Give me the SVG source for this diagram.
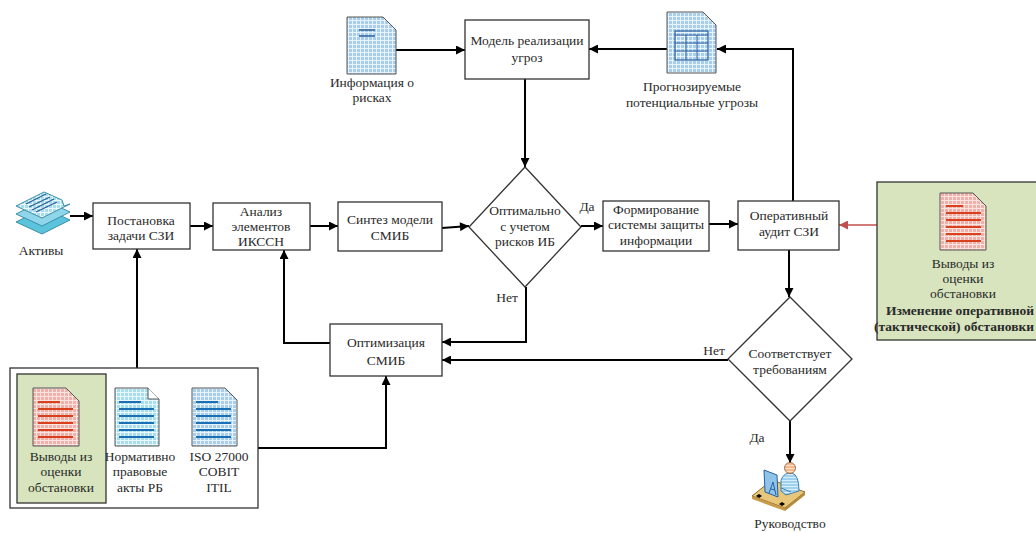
<svg xmlns="http://www.w3.org/2000/svg" width="1036" height="533" viewBox="0 0 1036 533">
  <style>
    text { font-family: "Liberation Serif", "DejaVu Serif", serif; font-size: 13.5px; fill: #2a2a2a; text-anchor: middle; }
    .bold { font-weight: bold; }
    .end { text-anchor: end; }
    .box { fill: #fff; stroke: #333; stroke-width: 1.3; }
    .green { fill: #d7e4bd; stroke: #333; stroke-width: 1.3; }
    .frame { fill: #fff; stroke: #333; stroke-width: 1.3; }
    .wire { fill: none; stroke: #000; stroke-width: 2; }
    .wire-red { fill: none; stroke: #c0504d; stroke-width: 1.5; }
    .doc-blue { fill: url(#gridBlue); stroke: #555; stroke-width: 1; }
    .doc-cyan { fill: url(#gridCyan); stroke: #555; stroke-width: 1; }
    .doc-red { fill: url(#gridRed); stroke: #555; stroke-width: 1; }
    .ln-red { stroke: #d9401e; stroke-width: 2; }
    .ln-blue { stroke: #1a6fb5; stroke-width: 2; }
    .ln-navy { stroke: #2a5f9e; stroke-width: 1.3; }
  </style>
  <defs>
    <marker id="arr" viewBox="0 0 10 10" refX="10" refY="5" markerWidth="11" markerHeight="9" markerUnits="userSpaceOnUse" orient="auto">
      <path d="M0,0 L10,5 L0,10 z" fill="#000"/>
    </marker>
    <marker id="arrRed" viewBox="0 0 10 10" refX="10" refY="5" markerWidth="11" markerHeight="9" markerUnits="userSpaceOnUse" orient="auto">
      <path d="M0,0 L10,5 L0,10 z" fill="#c0504d"/>
    </marker>
    <pattern id="gridBlue" width="4" height="4" patternUnits="userSpaceOnUse">
      <rect width="4" height="4" fill="#a9cdec"/>
      <path d="M0,0.5 H4 M0.5,0 V4" stroke="#e8f3fc" stroke-width="1"/>
    </pattern>
    <pattern id="gridCyan" width="4" height="4" patternUnits="userSpaceOnUse">
      <rect width="4" height="4" fill="#a8dcef"/>
      <path d="M0,0.5 H4 M0.5,0 V4" stroke="#eaf7fc" stroke-width="1"/>
    </pattern>
    <pattern id="gridRed" width="4" height="4" patternUnits="userSpaceOnUse">
      <rect width="4" height="4" fill="#f2b0aa"/>
      <path d="M0,0.5 H4 M0.5,0 V4" stroke="#fbe3e0" stroke-width="1"/>
    </pattern>
    <pattern id="stripeSkin" width="3" height="3" patternUnits="userSpaceOnUse">
      <rect width="3" height="3" fill="#f3b98c"/>
      <path d="M0,0.5 H3" stroke="#fbe0c8" stroke-width="1"/>
    </pattern>
    <pattern id="stripeShirt" width="3" height="3" patternUnits="userSpaceOnUse">
      <rect width="3" height="3" fill="#9fd0ee"/>
      <path d="M0,0.5 H3" stroke="#d8eefa" stroke-width="1"/>
    </pattern>
  </defs>

  <!-- connectors -->
  <g id="connectors">
    <path class="wire" d="M70,216 H93" marker-end="url(#arr)"/>
    <path class="wire" d="M190,226 H213" marker-end="url(#arr)"/>
    <path class="wire" d="M310,226 H338" marker-end="url(#arr)"/>
    <path class="wire" d="M442,228 L469,226" marker-end="url(#arr)"/>
    <path class="wire" d="M581,226 H603" marker-end="url(#arr)"/>
    <path class="wire" d="M709,224 H738" marker-end="url(#arr)"/>
    <path class="wire" d="M793,201 V49 H717" marker-end="url(#arr)"/>
    <path class="wire" d="M667,49 H589" marker-end="url(#arr)"/>
    <path class="wire" d="M396,50 H465" marker-end="url(#arr)"/>
    <path class="wire" d="M525,79 V167" marker-end="url(#arr)"/>
    <path class="wire" d="M526,287 V342 H442" marker-end="url(#arr)"/>
    <path class="wire" d="M789,249 V297" marker-end="url(#arr)"/>
    <path class="wire" d="M728,360 H442" marker-end="url(#arr)"/>
    <path class="wire" d="M790,421 V463" marker-end="url(#arr)"/>
    <path class="wire" d="M330,343 H284 V250" marker-end="url(#arr)"/>
    <path class="wire" d="M137,388 V249" marker-end="url(#arr)"/>
    <path class="wire" d="M258,448 H386 V376" marker-end="url(#arr)"/>
    <path class="wire-red" d="M877,225 H839" marker-end="url(#arrRed)"/>
    <text x="587" y="211">Да</text>
    <text x="507" y="302">Нет</text>
    <text x="714" y="355">Нет</text>
    <text x="757" y="442">Да</text>
  </g>

  <!-- assets: stacked sheets -->
  <g id="assets">
    <path d="M16,222 L44,208 L70,220 L42,234 z" fill="#5cc3dc" stroke="#3a8fa6" stroke-width="1"/>
    <path d="M16,214 L44,200 L70,212 L42,226 z" fill="#8fd6ea" stroke="#3a8fa6" stroke-width="1"/>
    <path d="M16,206 L44,192 L62,200 L64,206 L70,204 L42,218 z" fill="url(#gridCyan)" stroke="#3a8fa6" stroke-width="1"/>
    <path d="M26,204 L46,194 M29,207 L50,197 M32,210 L54,199 M36,212 L57,202" class="ln-navy"/>
    <text x="41" y="255">Активы</text>
  </g>

  <g id="task">
    <rect class="box" x="93" y="203" width="97" height="46"/>
    <text x="141" y="225">Постановка</text>
    <text x="141" y="240">задачи СЗИ</text>
  </g>

  <g id="analysis">
    <rect class="box" x="213" y="203" width="97" height="47"/>
    <text x="261" y="216">Анализ</text>
    <text x="261" y="231">элементов</text>
    <text x="261" y="246">ИКССН</text>
  </g>

  <g id="synthesis">
    <rect class="box" x="338" y="202" width="104" height="49"/>
    <text x="390" y="224">Синтез модели</text>
    <text x="390" y="240">СМИБ</text>
  </g>

  <g id="optimal">
    <path class="box" d="M525,167 L581,227 L525,287 L469,227 z"/>
    <text x="525" y="215">Оптимально</text>
    <text x="525" y="231">с учетом</text>
    <text x="525" y="246">рисков ИБ</text>
  </g>

  <g id="forming">
    <rect class="box" x="603" y="201" width="106" height="50"/>
    <text x="656" y="214">Формирование</text>
    <text x="656" y="229">системы защиты</text>
    <text x="656" y="245">информации</text>
  </g>

  <g id="audit">
    <rect class="box" x="738" y="201" width="101" height="49"/>
    <text x="789" y="220">Оперативный</text>
    <text x="789" y="236">аудит СЗИ</text>
  </g>

  <g id="threat-model">
    <rect class="box" x="465" y="20" width="124" height="59"/>
    <text x="527" y="45">Модель реализации</text>
    <text x="527" y="62">угроз</text>
  </g>

  <g id="risk-info">
    <path class="doc-blue" d="M347,17 H383 L396,30 V74 H347 z"/>
    <path d="M359,30 H375 M359,36 H375" class="ln-navy"/>
    <text x="372" y="87">Информация о</text>
    <text x="372" y="102">рисках</text>
  </g>

  <g id="forecast">
    <path class="doc-blue" d="M667,12 H703 L716,25 V73 H667 z"/>
    <rect x="675" y="31" width="33" height="29" fill="none" stroke="#2a5f9e" stroke-width="1.2"/>
    <path d="M675,35 H708 M675,43 H708 M675,51 H708 M686,35 V60 M697,35 V60" stroke="#2a5f9e" stroke-width="1"/>
    <text x="692" y="91">Прогнозируемые</text>
    <text x="692" y="107">потенциальные угрозы</text>
  </g>

  <g id="optimization">
    <rect class="box" x="330" y="324" width="112" height="52"/>
    <text x="386" y="347">Оптимизация</text>
    <text x="386" y="365">СМИБ</text>
  </g>

  <g id="compliance">
    <path class="box" d="M790,297 L852,359 L790,421 L728,359 z"/>
    <text x="790" y="358">Соответствует</text>
    <text x="790" y="374">требованиям</text>
  </g>

  <!-- person at a desk with a monitor -->
  <g id="management">
    <path d="M752,496 L772,480 L805,492 L785,508 z" fill="#e8c67a" stroke="#8a6a2a" stroke-width="1"/>
    <path d="M785,508 L805,492 L805,495 L785,511 z" fill="#b58a3a"/>
    <path d="M752,496 L785,508 L785,511 L752,499 z" fill="#c99a48"/>
    <path d="M764,470 L777,475 L778,497 L765,492 z" fill="#8fc4ea" stroke="#2a5f9e" stroke-width="1"/>
    <path d="M769,493 L773,482 L776,495 M771,489 L775,490" fill="none" stroke="#2a5f9e" stroke-width="1"/>
    <path d="M781,480 Q784,472 792,473 Q799,475 799,491 L786,495 L781,491 z" fill="url(#stripeShirt)" stroke="#3a7fb0" stroke-width="1"/>
    <path d="M781,488 L791,492" stroke="#3a7fb0" stroke-width="1"/>
    <circle cx="790" cy="468" r="5.5" fill="url(#stripeSkin)" stroke="#8a5a3a" stroke-width="0.8"/>
    <path d="M756,496 l3,-2 l3,2 l-3,2 z M779,504 l3,-2 l3,2 l-3,2 z" fill="#000"/>
    <text x="790" y="528">Руководство</text>
  </g>

  <g id="situation-change">
    <rect class="green" x="877" y="182" width="170" height="158"/>
    <path class="doc-red" d="M940,193 H973 L986,206 V250 H940 z"/>
    <path d="M946,206 H963 M946,213 H981 M946,220 H981 M946,227 H981 M946,234 H981 M946,241 H981" class="ln-red"/>
    <text x="963" y="268">Выводы из</text>
    <text x="963" y="283">оценки</text>
    <text x="963" y="298">обстановки</text>
    <text class="bold end" x="1034" y="315">Изменение оперативной</text>
    <text class="bold end" x="1034" y="331">(тактической) обстановки</text>
  </g>

  <g id="sources">
    <rect class="frame" x="10" y="368" width="248" height="140"/>
    <rect class="green" x="17" y="374" width="89" height="129"/>
    <path class="doc-red" d="M33,388 H66 L79,401 V446 H33 z"/>
    <path d="M38,402 H60 M38,409 H73 M38,416 H73 M38,423 H73 M38,430 H73 M38,437 H73" class="ln-red"/>
    <text x="61" y="461">Выводы из</text>
    <text x="61" y="476">оценки</text>
    <text x="61" y="492">обстановки</text>

    <path class="doc-cyan" d="M115,388 H148 L159,399 V446 H115 z"/>
    <path d="M148,388 V399 H159" fill="#fff" stroke="#555" stroke-width="1"/>
    <path d="M119,402 H141 M119,409 H154 M119,416 H154 M119,423 H154 M119,430 H154 M119,437 H154" class="ln-blue"/>
    <text x="140" y="461">Нормативно</text>
    <text x="140" y="476">правовые</text>
    <text x="140" y="492">акты РБ</text>

    <path class="doc-blue" d="M192,388 H225 L237,400 V446 H192 z"/>
    <path d="M196,402 H218 M196,409 H231 M196,416 H231 M196,423 H231 M196,430 H231 M196,437 H231" class="ln-blue"/>
    <text x="219" y="461">ISO 27000</text>
    <text x="219" y="476">COBIT</text>
    <text x="219" y="492">ITIL</text>
  </g>
</svg>
